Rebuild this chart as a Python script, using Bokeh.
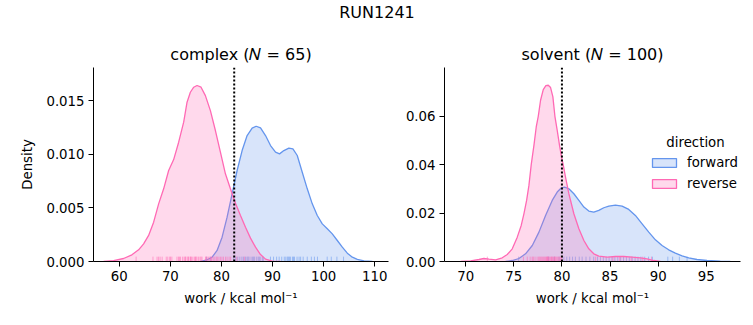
from bokeh.plotting import figure
from bokeh.layouts import column, row
from bokeh.models import (Range1d, Span, Legend, LegendItem, Label, FixedTicker,
                          PrintfTickFormatter, ColumnDataSource)
from bokeh.embed import file_html
from bokeh.resources import INLINE

# ---------------- data ----------------
SUPTITLE = "RUN1241"
DIRECTIONS = ["forward", "reverse"]
X_LABEL = "work / kcal mol\u207b\u00b9"
Y_LABEL = "Density"

complex_title = "complex (\U0001D441 = 65)"
solvent_title = "solvent (\U0001D441 = 100)"

# KDE curves (complex)
complex_forward_x = [75.88, 77.19, 78.17, 79.15, 80.13, 81.11, 82.09, 83.07, 84.05, 85.03, 86.01, 86.80,
                     87.65, 88.63, 89.61, 90.59, 91.37, 92.22, 93.20, 93.99, 94.84, 95.82, 96.80, 97.78,
                     98.76, 99.74, 100.72, 101.70, 102.68, 103.66, 104.64, 105.62, 106.60, 107.91, 109.54]
complex_forward_density = [0.0, 0.00016, 0.0004, 0.00103, 0.00227, 0.00414, 0.00631, 0.00849, 0.01035,
                           0.01175, 0.01244, 0.01262, 0.01247, 0.01175, 0.01082, 0.0102, 0.01004, 0.01035,
                           0.01057, 0.01051, 0.00989, 0.00833, 0.00678, 0.00538, 0.00429, 0.00351, 0.00305,
                           0.00258, 0.00196, 0.00134, 0.00078, 0.0004, 0.00019, 0.00006, 0.0]
complex_reverse_x = [56.93, 58.89, 60.85, 62.48, 63.79, 64.77, 65.75, 66.73, 67.71, 68.69, 69.67, 70.65,
                     71.63, 72.61, 73.27, 73.92, 74.58, 75.23, 76.01, 76.86, 77.84, 78.82, 79.80, 80.78,
                     81.76, 82.75, 83.73, 84.71, 85.69, 86.67, 87.65, 88.63, 89.93, 91.57]
complex_reverse_density = [0.0, 0.00009, 0.00028, 0.00062, 0.00109, 0.00165, 0.00243, 0.00367, 0.00538,
                           0.00678, 0.00849, 0.00951, 0.01113, 0.0130, 0.01486, 0.01579, 0.01626, 0.01642,
                           0.01626, 0.01548, 0.01408, 0.01222, 0.0102, 0.00818, 0.00678, 0.00544, 0.00429,
                           0.0032, 0.00218, 0.00134, 0.00065, 0.00022, 0.00003, 0.0]

# KDE curves (solvent)
solvent_forward_x = [74.15, 74.84, 75.53, 76.22, 76.92, 77.61, 78.30, 78.99, 79.51, 79.92, 80.27, 80.72,
                     81.24, 81.76, 82.28, 82.79, 83.31, 83.83, 84.35, 84.87, 85.56, 86.25, 86.94, 87.63,
                     88.33, 89.02, 89.71, 90.40, 91.09, 91.78, 92.48, 93.17, 94.03, 95.07, 96.45, 97.49]
solvent_forward_density = [0.0, 0.00041, 0.00124, 0.00317, 0.00662, 0.01214, 0.01904, 0.02525, 0.0287,
                           0.03036, 0.03077, 0.03008, 0.02801, 0.02525, 0.02249, 0.02084, 0.02042, 0.02111,
                           0.02222, 0.02291, 0.02332, 0.02291, 0.02153, 0.01904, 0.01559, 0.01214, 0.00897,
                           0.00662, 0.00483, 0.00345, 0.00235, 0.00152, 0.00083, 0.00041, 0.00014, 0.0]
solvent_reverse_x = [69.48, 70.52, 71.38, 71.90, 72.42, 73.11, 73.80, 74.32, 74.84, 75.36, 75.77, 76.05,
                     76.33, 76.57, 76.81, 77.09, 77.33, 77.54, 77.78, 78.06, 78.33, 78.58, 78.82, 79.06,
                     79.27, 79.51, 79.75, 79.96, 80.13, 80.37, 80.72, 81.24, 81.76, 82.28, 82.79, 83.31,
                     83.83, 84.70, 85.56, 86.42, 87.29, 88.15, 88.84, 89.54, 90.23]
solvent_reverse_density = [0.0, 0.00028, 0.00083, 0.00124, 0.00097, 0.00069, 0.00152, 0.0029, 0.00524,
                           0.01007, 0.0149, 0.01973, 0.02525, 0.03146, 0.04002, 0.04802, 0.05561, 0.06003,
                           0.06665, 0.07107, 0.07273, 0.07286, 0.0719, 0.06803, 0.06003, 0.05423, 0.04802,
                           0.04319, 0.04002, 0.03491, 0.02801, 0.01973, 0.01352, 0.00869, 0.00524, 0.00317,
                           0.00221, 0.00179, 0.00207, 0.00207, 0.00179, 0.00152, 0.0011, 0.00041, 0.0]

# rug samples
complex_forward_rug = [77.1, 77.8, 82.4, 82.8, 83.2, 83.6, 84.0, 84.3, 84.7, 85.0, 85.2, 85.4, 85.8, 86.1,
                       86.3, 86.5, 86.9, 87.2, 87.4, 87.6, 88.0, 88.2, 89.6, 90.2, 90.8, 91.3, 91.8, 92.3,
                       92.6, 92.9, 93.1, 93.3, 93.5, 93.9, 94.1, 94.3, 94.8, 95.2, 95.5, 96.0, 96.8, 97.6,
                       98.2, 98.8, 100.7, 101.5, 102.6, 103.9]
complex_reverse_rug = [63.3, 66.6, 67.4, 67.7, 68.0, 68.4, 69.2, 69.5, 69.9, 70.0, 70.3, 71.3, 71.6, 71.8,
                       72.0, 72.4, 72.7, 72.9, 73.0, 73.3, 73.5, 73.6, 73.9, 74.0, 74.1, 74.4, 74.7, 74.9,
                       75.0, 75.2, 75.5, 75.8, 76.0, 76.2, 76.9, 77.0, 77.2, 77.5, 77.8, 78.0, 78.1, 78.4,
                       78.7, 79.0, 79.2, 79.5, 79.8, 80.1, 80.4, 80.8, 81.1, 81.5, 81.8, 83.0, 84.5]
solvent_forward_rug = [75.5, 78.6, 79.2, 79.7, 80.2, 80.5, 80.8, 81.1, 81.4, 81.8, 82.1, 82.5, 82.9, 83.3,
                       83.7, 84.0, 84.3, 84.6, 84.9, 85.2, 85.5, 85.8, 86.1, 86.4, 86.7, 87.0, 87.3, 87.6,
                       87.9, 88.2, 88.6, 89.0, 89.4, 91.0, 91.5, 92.2, 93.0]
solvent_reverse_rug = [72.25, 76.0, 76.4, 76.7, 76.9, 77.0, 77.1, 77.3, 77.5, 77.6, 77.7, 77.8, 77.9, 78.0,
                       78.1, 78.2, 78.3, 78.4, 78.45, 78.5, 78.55, 78.6, 78.7, 78.8, 78.9, 78.95, 79.0,
                       79.1, 79.2, 79.25, 79.3, 79.4, 79.5, 79.6, 79.7, 79.8, 79.9, 80.0, 83.5, 85.3,
                       86.0, 87.2, 88.4, 89.3]

complex_estimate = 82.5
solvent_estimate = 80.0

complex_xticks = [60, 70, 80, 90, 100, 110]
complex_yticks = [0.0, 0.005, 0.010, 0.015]
solvent_xticks = [70, 75, 80, 85, 90, 95]
solvent_yticks = [0.0, 0.02, 0.04, 0.06]

# ---------------- style ----------------
FONT = "DejaVu Sans"
COLORS = {"forward": "#6495ED", "reverse": "#FF69B4"}
NAN = float("nan")


def style_axes(p, xticks, yticks, yfmt):
    p.xaxis.ticker = FixedTicker(ticks=xticks)
    p.yaxis.ticker = FixedTicker(ticks=yticks)
    p.yaxis.formatter = PrintfTickFormatter(format=yfmt)
    for ax in (p.xaxis[0], p.yaxis[0]):
        ax.axis_line_color = "black"
        ax.axis_line_width = 1
        ax.major_tick_line_color = "black"
        ax.major_tick_line_width = 1
        ax.major_tick_in = 0
        ax.major_tick_out = 5
        ax.minor_tick_line_color = None
        ax.major_label_text_font = FONT
        ax.major_label_text_font_size = "13.3px"
        ax.major_label_text_color = "black"
        ax.axis_label_text_font = FONT
        ax.axis_label_text_font_size = "13.3px"
        ax.axis_label_text_font_style = "normal"
        ax.axis_label_text_color = "black"
        ax.major_label_standoff = 4
    p.xaxis.axis_label = X_LABEL
    p.xaxis.axis_label_standoff = 7
    p.grid.visible = False
    p.outline_line_color = None
    p.background_fill_color = "white"
    p.border_fill_color = "white"
    p.title.text_font = FONT
    p.title.text_font_size = "16px"
    p.title.text_font_style = "normal"
    p.title.text_color = "black"
    p.title.align = "center"
    p.title.standoff = 7


def make_panel(title, width, xr, yr, series, rugs, estimate, xticks, yticks, yfmt, bl, br):
    p = figure(width=width, height=295, x_range=Range1d(*xr), y_range=Range1d(*yr),
               output_backend="svg", toolbar_location=None, title=title,
               min_border_left=bl, min_border_right=br, min_border_top=37, min_border_bottom=64)
    style_axes(p, xticks, yticks, yfmt)
    rug_h = 0.025 * (yr[1] - yr[0])
    renderers = {}
    for d in DIRECTIONS:
        xs, ys = series[d]
        src = ColumnDataSource(dict(x=xs, y=ys))
        p.varea(x="x", y1=0, y2="y", source=src, fill_color=COLORS[d], fill_alpha=0.25)
        p.line(x="x", y="y", source=src, line_color=COLORS[d], line_width=1.3)
        r = rugs[d]
        p.segment(x0=r, y0=[0] * len(r), x1=r, y1=[rug_h] * len(r),
                  line_color=COLORS[d], line_alpha=0.55, line_width=1)
        # legend proxy (NaN geometry: nothing drawn in the plot)
        renderers[d] = p.quad(left=[NAN], right=[NAN], top=[NAN], bottom=[NAN],
                              fill_color=COLORS[d], fill_alpha=0.25,
                              line_color=COLORS[d], line_width=1.3)
    p.add_layout(Span(location=estimate, dimension="height", line_color="black",
                      line_dash="2 2", line_width=2))
    return p, renderers


p1, _ = make_panel(complex_title, 400, (54.96, 112.7), (0, 0.0181),
                   {"forward": (complex_forward_x, complex_forward_density),
                    "reverse": (complex_reverse_x, complex_reverse_density)},
                   {"forward": complex_forward_rug, "reverse": complex_reverse_rug},
                   complex_estimate, complex_xticks, complex_yticks, "%.3f", 93, 12)
p1.yaxis.axis_label = Y_LABEL
p1.yaxis.axis_label_standoff = 8

p2, rr = make_panel(solvent_title, 353, (67.8, 98.55), (0, 0.0802),
                    {"forward": (solvent_forward_x, solvent_forward_density),
                     "reverse": (solvent_reverse_x, solvent_reverse_density)},
                    {"forward": solvent_forward_rug, "reverse": solvent_reverse_rug},
                    solvent_estimate, solvent_xticks, solvent_yticks, "%.2f", 44, 13)

legend = Legend(items=[LegendItem(label=d, renderers=[rr[d]]) for d in DIRECTIONS],
                location=(205, 70), orientation="vertical",
                label_text_font=FONT, label_text_font_size="13.3px", label_text_color="black",
                glyph_width=30, glyph_height=11, label_standoff=8, label_height=16,
                spacing=5, padding=0, margin=0, border_line_color=None,
                background_fill_alpha=0)
p2.add_layout(legend, "center")
p2.add_layout(Label(x=251, y=119, x_units="screen", y_units="screen", text="direction",
                    text_align="center", text_baseline="middle", text_font=FONT,
                    text_font_size="13.3px", text_color="black"))

# suptitle strip
p0 = figure(width=753, height=30, output_backend="svg", toolbar_location=None,
            x_axis_location=None, y_axis_location=None,
            min_border_left=0, min_border_right=0, min_border_top=0, min_border_bottom=0)
p0.grid.visible = False
p0.outline_line_color = None
p0.add_layout(Label(x=376.5, y=18, x_units="screen", y_units="screen", text=SUPTITLE,
                    text_align="center", text_baseline="middle", text_font=FONT,
                    text_font_size="16px", text_color="black"))

layout = column(p0, row(p1, p2))
open("out.html", "w").write(file_html(layout, INLINE))
